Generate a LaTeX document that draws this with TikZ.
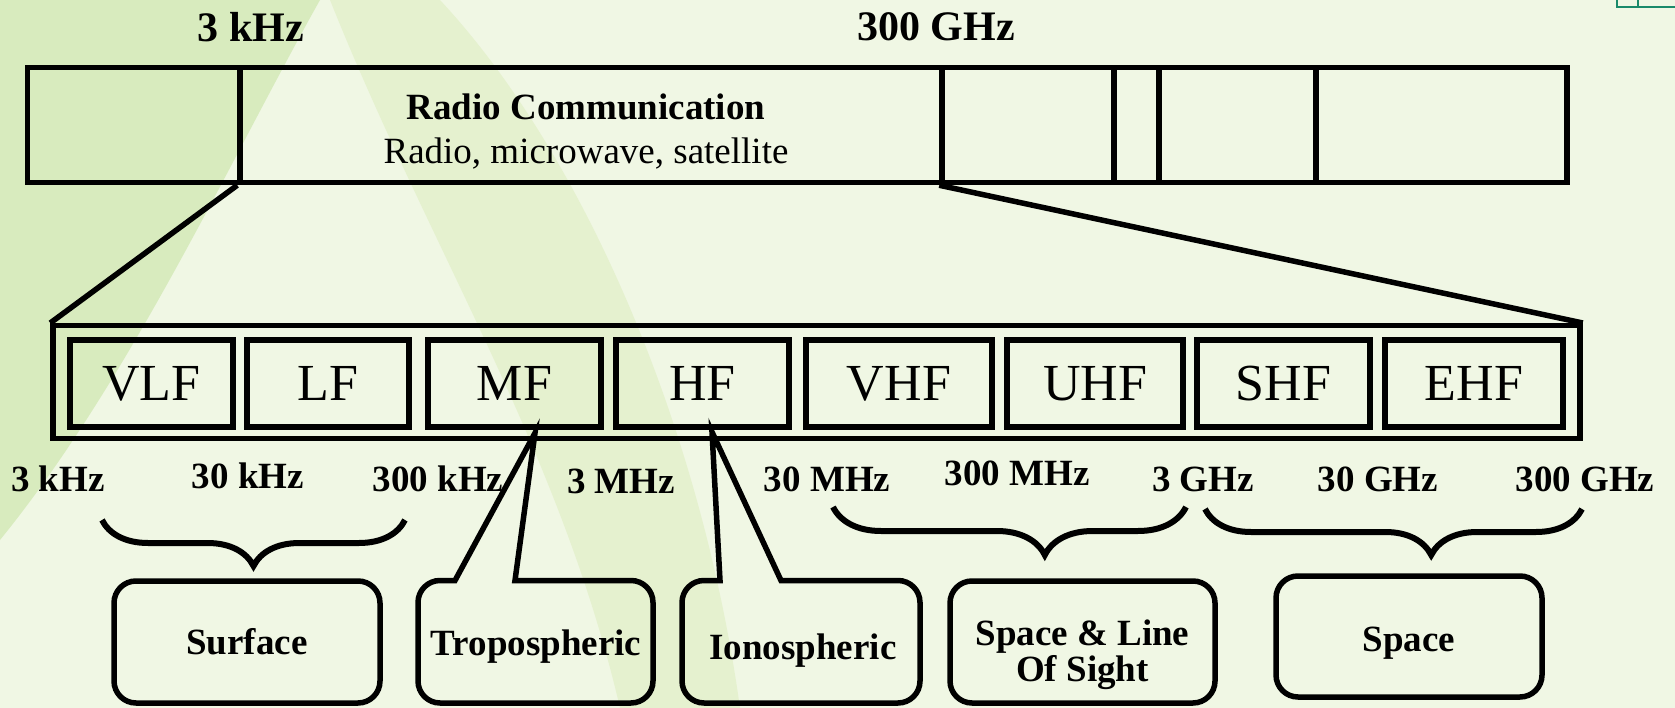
\documentclass[tikz,border=0pt]{standalone}
\usepackage{fontspec}
\setmainfont{Liberation Serif}
\usetikzlibrary{positioning, decorations.pathreplacing}

\definecolor{bgpale}{HTML}{F0F7E4}
\definecolor{leafgreen}{HTML}{D8EBBE}
\definecolor{leaflight}{HTML}{E3F0CA}
\definecolor{cornerteal}{HTML}{1A8A6A}

\begin{document}
\begin{tikzpicture}[x=1pt, y=-1pt,
    cell/.style={draw, line width=5.5pt, minimum height=115pt, inner sep=0pt},
    band/.style={draw, line width=6pt, minimum height=87pt, inner sep=0pt,
                 font=\fontsize{52}{60}\selectfont},
    freq/.style={font=\bfseries\fontsize{37}{40}\selectfont, inner sep=0pt},
    topfreq/.style={font=\bfseries\fontsize{42}{46}\selectfont, inner sep=0pt},
    mode/.style={font=\bfseries\fontsize{37}{36}\selectfont, align=center, inner sep=0pt},
    modebox/.style={draw, line width=5.5pt, rounded corners=22pt, minimum width=266pt,
                    minimum height=122pt},
    callout/.style={line width=5.5pt, line join=miter},
    zoomline/.style={line width=5.5pt},
    span/.style={line width=6pt, decorate, decoration={brace, mirror, amplitude=46pt}}
]

    % =================================================================
    % 0. NỀN
    % =================================================================
    \useasboundingbox (0,0) rectangle (1675,708);
    \fill[bgpale] (0,0) rectangle (1675,708);
    \fill[leafgreen] (0,0) -- (320,0) .. controls (230,160) and (130,380) .. (0,540) -- cycle;
    \fill[leaflight, opacity=0.8] (330,0) .. controls (430,250) and (560,450) .. (620,708)
        -- (740,708) .. controls (700,420) and (580,150) .. (440,0) -- cycle;
    \draw[cornerteal, line width=2pt] (1617,-2) -- (1617,7) -- (1677,7);
    \draw[cornerteal, line width=2pt] (1638,-2) -- (1638,7);

    % =================================================================
    % 1. THANH PHỔ TRÊN
    % =================================================================
    \node[cell, minimum width=212.5pt] (c1) at (133.75,125) {};
    \node[cell, minimum width=702pt] (radio) at (591,125) {};
    \node[cell, minimum width=172pt] (c3) at (1028,125) {};
    \node[cell, minimum width=45pt] (c4) at (1136.5,125) {};
    \node[cell, minimum width=157pt] (c5) at (1237.5,125) {};
    \node[cell, minimum width=251pt] (c6) at (1441.5,125) {};
    \node[align=center, font=\fontsize{37}{44}\selectfont] (radiotext) at (586,132)
        {\textbf{Radio Communication}\\Radio, microwave, satellite};

    \node[topfreq] (lowtop) at (251,27) {3 kHz};
    \node[topfreq] (hightop) at (936,27) {300 GHz};

    % =================================================================
    % 2. THANH PHỔ DƯỚI (CÁC BĂNG TẦN)
    % =================================================================
    \node[draw, line width=5.5pt, minimum width=1527pt, minimum height=112.5pt] (spectrum)
        at (816.5,382) {};

    \node[band, minimum width=163pt] (vlf) at (151.5,383.5) {VLF};
    \node[band, minimum width=162pt] (lf)  at (328,383.5)   {LF};
    \node[band, minimum width=173pt] (mf)  at (514.5,383.5) {MF};
    \node[band, minimum width=173pt] (hf)  at (702.5,383.5) {HF};
    \node[band, minimum width=186pt] (vhf) at (899,383.5)   {VHF};
    \node[band, minimum width=176pt] (uhf) at (1095,383.5)  {UHF};
    \node[band, minimum width=173pt] (shf) at (1283.5,383.5) {SHF};
    \node[band, minimum width=178pt] (ehf) at (1474,383.5)  {EHF};

    % Đường phóng to
    \draw[zoomline] (radio.south west) -- (spectrum.north west);
    \draw[zoomline] (c3.south west) -- (spectrum.north east);

    % =================================================================
    % 3. NHÃN TẦN SỐ
    % =================================================================
    \node[freq] (f1) at (58,479)   {3 kHz};
    \node[freq] (f2) at (248,476)  {30 kHz};
    \node[freq] (f3) at (438,479)  {300 kHz};
    \node[freq] (f4) at (621,481)  {3 MHz};
    \node[freq] (f5) at (827,479)  {30 MHz};
    \node[freq] (f6) at (1017,473) {300 MHz};
    \node[freq] (f7) at (1203,479) {3 GHz};
    \node[freq] (f8) at (1378,479) {30 GHz};
    \node[freq] (f9) at (1585,479) {300 GHz};

    % Ngoặc nhọn
    \draw[span] (102,520) -- (405,520);
    \draw[span, decoration={aspect=0.6, amplitude=48pt}] (833,507) -- (1186,507);
    \draw[span, decoration={aspect=0.6}] (1205,509) -- (1582,509);

    % =================================================================
    % 4. CÁC KIỂU TRUYỀN SÓNG
    % =================================================================
    \node[modebox, mode] (surface) at (247,642) {Surface};
    \node[modebox, minimum width=265pt] (sightlos) at (1082.5,642) {};
    \node[mode] (sightlostext) at (1082.5,655) {Space \& Line\\Of Sight};
    \node[modebox, minimum height=121pt] (space) at (1409,636.5) {};
    \node[mode] (spacetext) at (1409,643) {Space};

    % Hộp chú thích có mũi nhọn
    \coordinate (mftip) at (535,433);
    \coordinate (hftip) at (712,432);
    \draw[callout] (455,580.5) -- (mftip) -- (515,580.5) [rounded corners=22pt]
        -- (653,580.5) -- (653,703) -- (418,703) -- (418,580.5) [sharp corners] -- cycle;
    \draw[callout] (720,580.5) -- (hftip) -- (781,580.5) [rounded corners=22pt]
        -- (920,580.5) -- (920,703) -- (682,703) -- (682,580.5) [sharp corners] -- cycle;
    \node[mode] (tropo) at (536,647) {Tropospheric};
    \node[mode] (iono) at (803,651) {Ionospheric};

\end{tikzpicture}
\end{document}
